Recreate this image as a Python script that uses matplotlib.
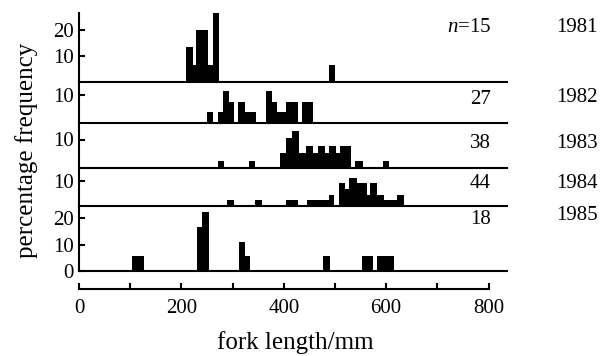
import matplotlib.pyplot as plt

plt.rcParams['font.family'] = ['Liberation Serif', 'DejaVu Serif']
plt.rcParams['mathtext.fontset'] = 'custom'
plt.rcParams['mathtext.rm'] = 'Liberation Serif'
plt.rcParams['mathtext.it'] = 'Liberation Serif:italic'

# fork length histograms, one panel per year (bin edges in mm, counts of fish)
years = [1981, 1982, 1983, 1984, 1985]
n_fish = [15, 27, 38, 44, 18]

edges_1981 = [209, 222, 229, 252, 261, 273.5, 487.5, 501]
count_1981 = [2, 1, 3, 1, 4, 0, 1]

edges_1982 = [250, 262, 271.5, 281, 292.5, 303.5, 311, 324, 345, 365, 377,
              386.5, 403.5, 428, 435.5, 458]
count_1982 = [1, 0, 1, 3, 2, 0, 2, 1, 0, 3, 2, 1, 2, 0, 2]

edges_1983 = [271, 282.5, 331.5, 344.5, 393, 404, 416, 430, 443, 458, 466,
              481, 487.5, 502.5, 509, 531, 539.5, 554.5, 593.5, 606]
count_1983 = [1, 0, 1, 0, 2, 4, 5, 2, 3, 2, 3, 2, 3, 2, 3, 0, 1, 0, 1]

edges_1984 = [289, 302, 343, 357.5, 405, 427.5, 446, 487.5, 499, 507, 519,
              527.5, 543, 562, 569, 583, 596, 621, 634]
count_1984 = [1, 0, 1, 0, 1, 0, 1, 2, 0, 4, 3, 5, 4, 2, 4, 2, 1, 2]

edges_1985 = [104, 126.5, 230.5, 240.5, 253.5, 312, 323.5, 334.5, 476.5,
              489.5, 552.5, 574, 582, 615.5]
count_1985 = [1, 0, 3, 4, 0, 2, 1, 0, 1, 0, 1, 0, 1]

all_edges = [edges_1981, edges_1982, edges_1983, edges_1984, edges_1985]
all_counts = [count_1981, count_1982, count_1983, count_1984, count_1985]
y_ticks = [[10, 20], [10], [10], [10], [0, 10, 20]]

# layout in pixels
W, H = 604, 356
left_px, right_px = 79, 507
panel_px = [(13, 82), (82, 123), (123, 168), (168, 206), (206, 271)]
px_per_pct = [2.6, 2.85, 2.85, 2.5, 2.65]
xmax = (right_px - 78.5) / 0.5125

# label positions (pixel rows) for n and year
n_rows = [27, 100, 143, 183, 220]
year_rows = [27, 97, 143, 183, 216]

fig = plt.figure(figsize=(W / 100, H / 100), dpi=100)
lw = 1.5
fs = 15

for i, yr in enumerate(years):
    top, bot = panel_px[i]
    ax = fig.add_axes([left_px / W, 1 - bot / H, (right_px - left_px) / W, (bot - top) / H])
    pct = [c / n_fish[i] * 100 for c in all_counts[i]]
    ax.stairs(pct, all_edges[i], fill=True, color='black', linewidth=0.3)
    ax.set_xlim(0, xmax)
    ymax = (bot - top) / px_per_pct[i]
    ax.set_ylim(0, ymax)
    ax.patch.set_visible(False)
    for s in ['top', 'right']:
        ax.spines[s].set_visible(False)
    for s in ['left', 'bottom']:
        ax.spines[s].set_linewidth(lw)
    ax.set_yticks(y_ticks[i])
    ax.tick_params(axis='y', direction='in', length=4, width=lw, labelsize=fs, pad=4)
    ax.tick_params(axis='x', bottom=False, labelbottom=False)

    def row(y):
        return (bot - y) / px_per_pct[i]

    label = r'$n$=%d' % n_fish[i] if i == 0 else str(n_fish[i])
    ax.text(805, row(n_rows[i]), label, ha='right', va='center', fontsize=fs, clip_on=False)
    ax.text(972, row(year_rows[i]), str(yr), ha='center', va='center', fontsize=fs, clip_on=False)

# separate x axis below the panels
axx = fig.add_axes([left_px / W, 1 - 289 / H, (right_px - left_px) / W, 10 / H])
axx.patch.set_visible(False)
for s in ['top', 'right', 'left']:
    axx.spines[s].set_visible(False)
axx.spines['bottom'].set_linewidth(lw)
axx.spines['bottom'].set_bounds(0, 800)
axx.set_xlim(0, xmax)
axx.set_yticks([])
axx.set_xticks(range(0, 801, 200))
axx.set_xticks(range(100, 800, 200), minor=True)
axx.tick_params(axis='x', which='both', direction='in', length=4, width=lw, labelsize=fs, pad=7)

fig.text(295 / W, 1 - 343 / H, 'fork length/mm', ha='center', va='center', fontsize=18)
fig.text(27 / W, 1 - 150 / H, 'percentage frequency', ha='center', va='center',
         rotation=90, fontsize=18)

fig.savefig('out.png', dpi=100)
